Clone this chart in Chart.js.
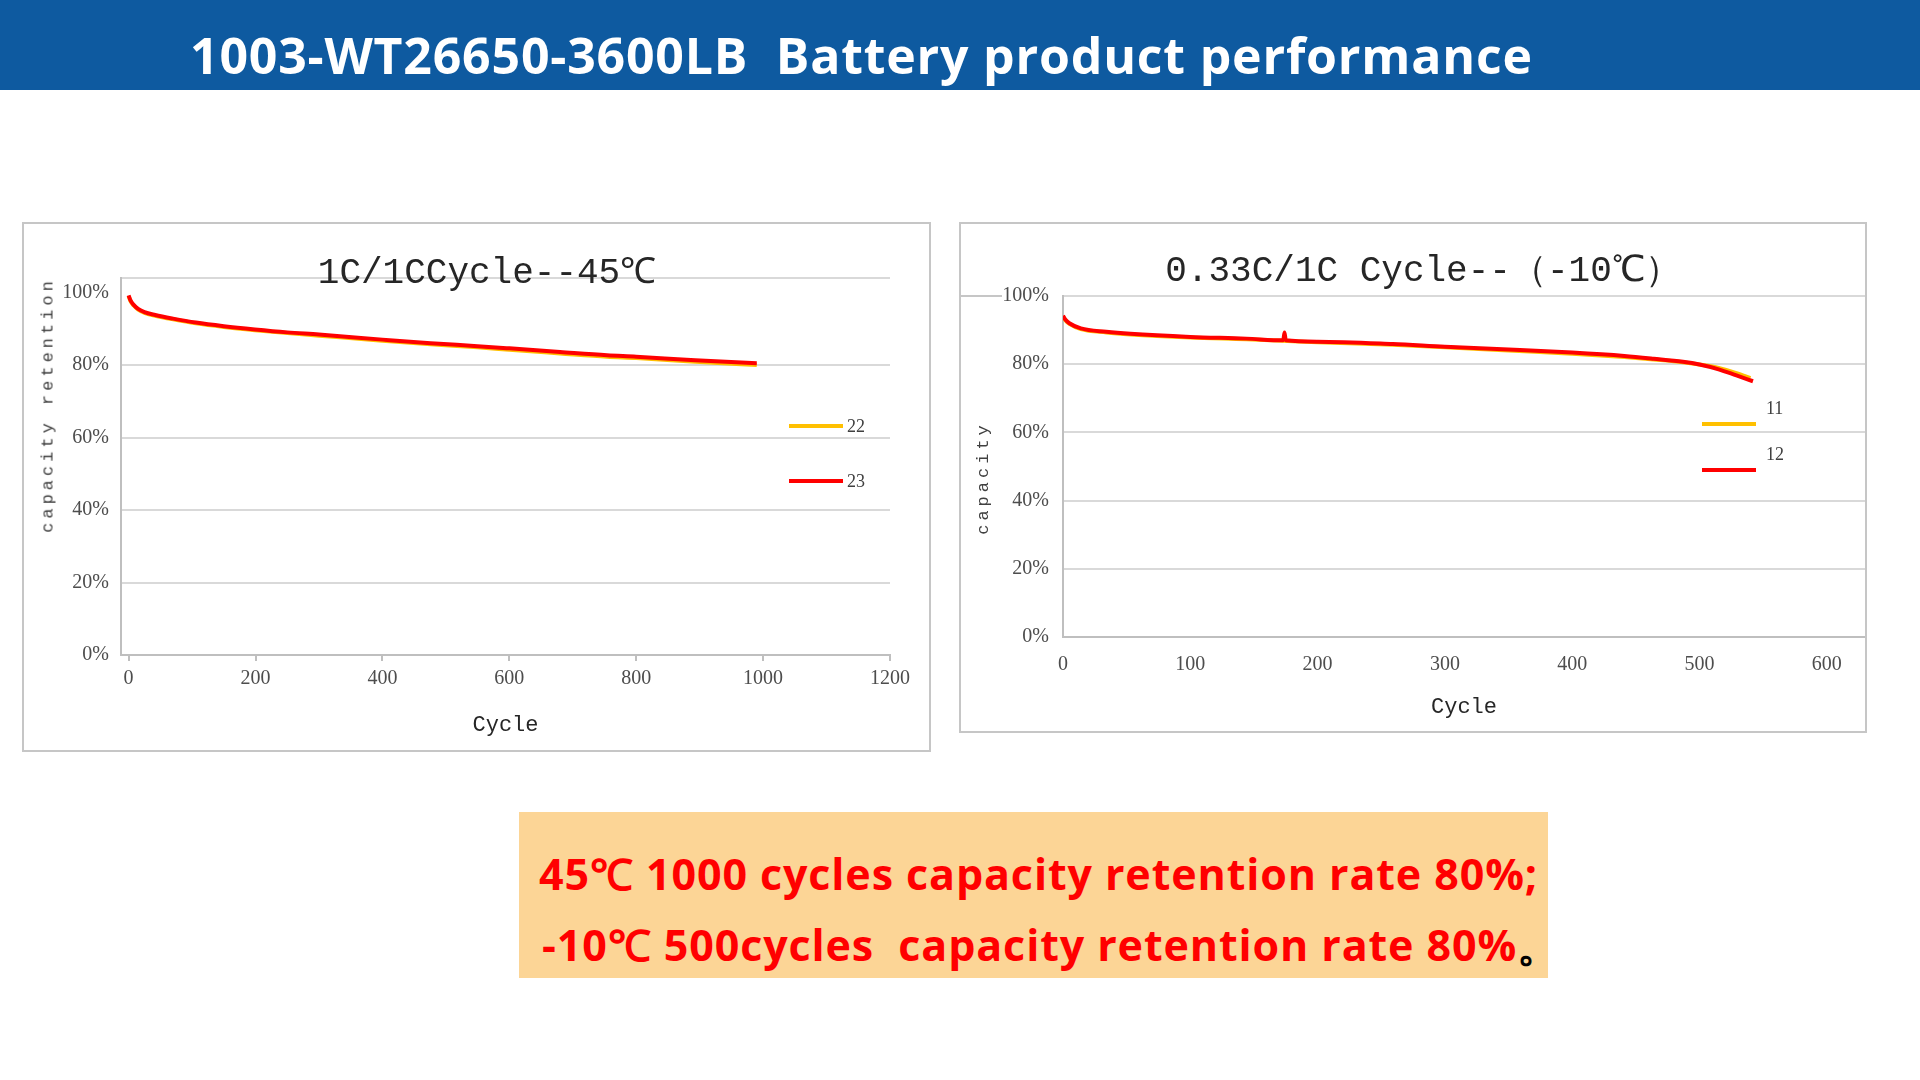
<!DOCTYPE html>
<html>
<head>
<meta charset="utf-8">
<script src="https://cdn.jsdelivr.net/npm/chart.js@4.4.1/dist/chart.umd.min.js"></script>
<style>
body { margin: 0; width: 1920px; height: 1080px; background: #fff; position: relative; overflow: hidden; }
.header { position: absolute; left: 0; top: 0; width: 1920px; height: 90px; background: #0E5AA0; }
.header h1 { position: absolute; left: 190px; top: 55px; transform: translateY(-50%); margin: 0; color: #fff; font: bold 50px 'Open Sans', sans-serif; letter-spacing: 0.8px; white-space: pre; line-height: 1; }
.panel { position: absolute; box-sizing: border-box; border: 2px solid #c6c6c6; }
.panel canvas { position: absolute; left: 0; top: 0; }
.ctitle { position: absolute; transform: translate(-50%, -50%); font: 36px 'Liberation Mono', monospace; color: #262626; white-space: pre; line-height: 1; }
.ytitle { position: absolute; transform: translate(-50%, -50%) rotate(-90deg); font: 17px 'Liberation Mono', monospace; letter-spacing: 4px; color: #404040; white-space: pre; line-height: 1; }
.lg-line { position: absolute; height: 4px; }
.lg-text { position: absolute; transform: translateY(-50%); font: 18px 'Liberation Serif', serif; color: #404040; line-height: 1; }
.note { position: absolute; left: 519px; top: 812px; width: 1029px; height: 166px; background: #FCD596; }
.note div { position: absolute; transform: translateY(-50%); font: bold 43px 'Open Sans', sans-serif; letter-spacing: 0.9px; color: #FF0000; white-space: pre; line-height: 1; }
.note span { color: #000; }
.stub { position: absolute; left: 959px; top: 295px; width: 43px; height: 2px; background: #c6c6c6; }
</style>
</head>
<body>
<div class="header"><h1>1003-WT26650-3600LB  Battery product performance</h1></div>

<div class="panel" style="left:22px;top:222px;width:909px;height:530px"><canvas id="chart1" width="905" height="526"></canvas></div>
<div class="panel" style="left:959px;top:222px;width:908px;height:511px"><canvas id="chart2" width="904" height="507"></canvas></div>
<div class="stub"></div>

<div class="ctitle" style="left:487px;top:274px">1C/1CCycle--45℃</div>
<div class="ctitle" style="left:1423px;top:272px">0.33C/1C Cycle--（-10℃）</div>
<div class="ytitle" style="left:48px;top:405px">capacity retention</div>
<div class="ytitle" style="left:983px;top:478px">capacity</div>
<div id="legends"></div>

<div class="note">
    <div style="left:20px;top:61px">45℃ 1000 cycles capacity retention rate 80%;</div>
    <div style="left:23px;top:132px">-10℃ 500cycles  capacity retention rate 80%<span>。</span></div>
</div>

<script>
// chart 1: 1C/1C cycle at 45C
const leftSeriesNames = ['22', '23']
const leftCycles = [0, 3, 8, 15, 25, 42, 70, 106, 150, 199, 250, 300, 400, 476, 550, 600, 680, 754, 800, 893, 990]
const leftCell22 = [99.0, 97.6, 96.4, 95.3, 94.4, 93.6, 92.6, 91.5, 90.5, 89.6, 88.8, 88.1, 86.7, 85.7, 84.9, 84.2, 83.2, 82.3, 81.9, 80.9, 80.0]
const leftCell23 = [99.2, 97.8, 96.6, 95.5, 94.6, 93.8, 92.8, 91.7, 90.7, 89.8, 89.0, 88.4, 87.0, 86.0, 85.2, 84.6, 83.6, 82.7, 82.3, 81.3, 80.5]
const leftXTicks = [0, 200, 400, 600, 800, 1000, 1200]
const leftYTicks = [0, 20, 40, 60, 80, 100]

// chart 2: 0.33C/1C cycle at -10C
const rightSeriesNames = ['11', '12']
const rightCycles11 = [0, 2, 5, 14, 34, 53, 100, 144, 172, 200, 259, 300, 350, 400, 441, 464, 487, 500, 515, 529, 540]
const rightCell11 = [94.0, 92.8, 91.8, 90.3, 89.3, 88.7, 87.8, 87.3, 86.9, 86.4, 85.7, 85.0, 84.0, 83.1, 82.1, 81.4, 80.6, 79.9, 78.9, 77.4, 75.9]
const rightCycles12 = [0, 2, 5, 14, 34, 53, 100, 144, 173, 174, 175, 200, 259, 300, 350, 400, 441, 464, 487, 500, 515, 529, 542]
const rightCell12 = [94.2, 93.0, 92.0, 90.5, 89.5, 88.9, 88.0, 87.5, 87.0, 89.3, 87.0, 86.6, 85.9, 85.1, 84.3, 83.4, 82.4, 81.6, 80.7, 79.9, 78.5, 76.7, 75.0]
const rightXTicks = [0, 100, 200, 300, 400, 500, 600]
const rightYTicks = [0, 20, 40, 60, 80, 100]

const yellow = '#FFC000'
const red = '#FF0000'
const gridColor = '#d9d9d9'
const axisColor = '#bfbfbf'
const tickFont = { family: 'Liberation Serif', size: 20 }
const tickColor = '#4d4d4d'

function toPoints(xs, ys) {
    return xs.map((x, i) => ({ x: x, y: ys[i] }))
}

function lineDataset(label, xs, ys, color) {
    return {
        label: label,
        data: toPoints(xs, ys),
        borderColor: color,
        backgroundColor: color,
        borderWidth: 4,
        pointRadius: 0,
        fill: false,
        cubicInterpolationMode: 'monotone'
    }
}

// legends sit inside the plot area, drawn as html
const legendLayout = [
    { name: leftSeriesNames[0], color: yellow, lineX: 789, lineY: 426, textX: 847, textY: 426 },
    { name: leftSeriesNames[1], color: red, lineX: 789, lineY: 481, textX: 847, textY: 481 },
    { name: rightSeriesNames[0], color: yellow, lineX: 1702, lineY: 424, textX: 1766, textY: 408 },
    { name: rightSeriesNames[1], color: red, lineX: 1702, lineY: 470, textX: 1766, textY: 454 }
]
const legendBox = document.querySelector('#legends')
legendLayout.forEach(item => {
    const line = document.createElement('div')
    line.className = 'lg-line'
    line.style.cssText = `left:${item.lineX}px;top:${item.lineY - 2}px;width:54px;background:${item.color}`
    legendBox.appendChild(line)
    const text = document.createElement('div')
    text.className = 'lg-text'
    text.style.cssText = `left:${item.textX}px;top:${item.textY}px`
    text.textContent = item.name
    legendBox.appendChild(text)
})

function renderChart1() {
    const ctx = document.querySelector('#chart1').getContext('2d')
    new Chart(ctx, {
        type: 'line',
        data: {
            datasets: [
                lineDataset(leftSeriesNames[1], leftCycles, leftCell23, red),
                lineDataset(leftSeriesNames[0], leftCycles, leftCell22, yellow)
            ]
        },
        options: {
            responsive: false,
            animation: false,
            layout: { padding: { left: 0, right: 39, top: 54, bottom: 0 } },
            scales: {
                x: {
                    type: 'linear',
                    min: -12,
                    max: 1200,
                    afterBuildTicks: s => { s.ticks = leftXTicks.map(v => ({ value: v })) },
                    afterFit: s => { s.height = 95 },
                    grid: { drawOnChartArea: false, drawTicks: true, tickLength: 6, color: axisColor, lineWidth: 2 },
                    border: { display: true, color: axisColor, width: 2 },
                    ticks: { font: tickFont, color: tickColor, padding: 6, maxRotation: 0, autoSkip: false, callback: v => String(v) },
                    title: {
                        display: true,
                        text: 'Cycle',
                        font: { family: 'Liberation Mono', size: 22 },
                        color: '#262626',
                        padding: { top: 0, bottom: 12 }
                    }
                },
                y: {
                    min: 0,
                    max: 104,
                    // top border line sits at 104, no grid line at 100
                    afterBuildTicks: s => { s.ticks = leftYTicks.concat([104]).map(v => ({ value: v })) },
                    afterFit: s => { s.width = 97 },
                    grid: {
                        drawTicks: false,
                        lineWidth: 2,
                        color: c => c.tick && c.tick.value === 100 ? 'rgba(0,0,0,0)' : gridColor
                    },
                    border: { display: true, color: axisColor, width: 2 },
                    ticks: {
                        font: tickFont,
                        color: tickColor,
                        padding: 12,
                        callback: v => v === 104 ? '' : v + '%'
                    }
                }
            },
            plugins: {
                legend: { display: false },
                tooltip: { enabled: false }
            }
        }
    })
}

function renderChart2() {
    const ctx = document.querySelector('#chart2').getContext('2d')
    new Chart(ctx, {
        type: 'line',
        data: {
            datasets: [
                lineDataset(rightSeriesNames[1], rightCycles12, rightCell12, red),
                lineDataset(rightSeriesNames[0], rightCycles11, rightCell11, yellow)
            ]
        },
        options: {
            responsive: false,
            animation: false,
            layout: { padding: { left: 0, right: 0, top: 72, bottom: 0 } },
            scales: {
                x: {
                    type: 'linear',
                    min: 0,
                    max: 630,
                    afterBuildTicks: s => { s.ticks = rightXTicks.map(v => ({ value: v })) },
                    afterFit: s => { s.height = 94 },
                    grid: { drawOnChartArea: false, drawTicks: false },
                    border: { display: true, color: axisColor, width: 2 },
                    ticks: { font: tickFont, color: tickColor, padding: 16, maxRotation: 0, autoSkip: false, callback: v => String(v) },
                    title: {
                        display: true,
                        text: 'Cycle',
                        font: { family: 'Liberation Mono', size: 22 },
                        color: '#262626',
                        padding: { top: 0, bottom: 11 }
                    }
                },
                y: {
                    min: 0,
                    max: 100,
                    afterBuildTicks: s => { s.ticks = rightYTicks.map(v => ({ value: v })) },
                    afterFit: s => { s.width = 102 },
                    grid: { drawTicks: false, lineWidth: 2, color: gridColor },
                    border: { display: true, color: axisColor, width: 2 },
                    ticks: {
                        font: tickFont,
                        color: tickColor,
                        padding: 14,
                        callback: v => v + '%'
                    }
                }
            },
            plugins: {
                legend: { display: false },
                tooltip: { enabled: false }
            }
        }
    })
}

renderChart1()
renderChart2()
</script>
</body>
</html>
